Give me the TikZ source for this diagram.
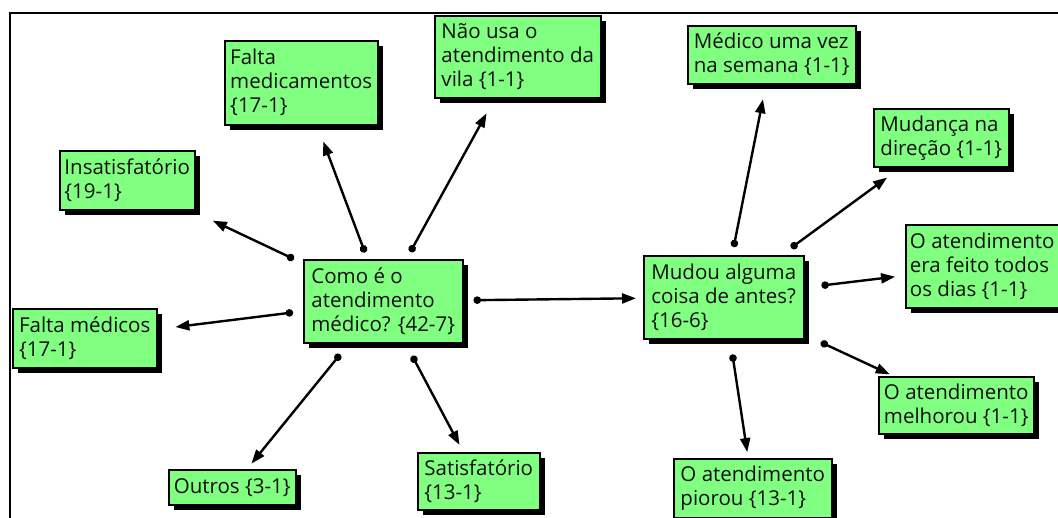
\documentclass[tikz,border=0pt]{standalone}
\usepackage{fontspec}
\setmainfont{Open Sans}
\usepackage{tikz}
\usetikzlibrary{arrows.meta,shadows}

\begin{document}
\begin{tikzpicture}[x=1pt,y=-1pt,line cap=rect,
		box/.style={draw=black, line width=1.5pt, fill=custcol_80_ff_80, text=custcol_10_10_10, align=left, anchor=north west, inner sep=0pt,
			font=\fontsize{20.5pt}{24pt}\selectfont, drop shadow={opacity=1, fill=black, shadow xshift=5pt, shadow yshift=-5pt}},
		link/.style={line width=2.4pt, line cap=butt, {Circle[length=7.5pt]}-{Triangle[length=14pt,width=10pt]}}]
					\definecolor{custcol_80_ff_80}{RGB}{128, 255, 128}
					\definecolor{custcol_10_10_10}{RGB}{16, 16, 16}
					\useasboundingbox (0,0) rectangle (1058,517);
					\fill [white] (0,0) rectangle (1058,517);
					\draw [line width=2.5pt, black] (10,517) -- (10,13) -- (1058,13);
					% left cluster
					\node [box, minimum width=135, minimum height=59] (insat) at (59,150) {Insatisfatório\\\{19-1\}};
					\node [box, minimum width=153, minimum height=84] (faltamed) at (224,40) {Falta\\medicamentos\\\{17-1\}};
					\node [box, minimum width=166, minimum height=82] (naousa) at (434,15) {Não usa o\\atendimento da\\vila \{1-1\}};
					\node [box, minimum width=159, minimum height=83] (como) at (303,259) {Como é o\\atendimento\\médico? \{42-7\}};
					\node [box, minimum width=144, minimum height=59] (faltamedicos) at (12,308) {Falta médicos\\\{17-1\}};
					\node [box, minimum width=127, minimum height=35] (outros) at (168,469) {Outros \{3-1\}};
					\node [box, minimum width=122, minimum height=57] (satisf) at (417,452) {Satisfatório\\\{13-1\}};
					% right cluster
					\node [box, minimum width=160, minimum height=83] (mudou) at (643,255) {Mudou alguma\\coisa de antes?\\\{16-6\}};
					\node [box, minimum width=168, minimum height=58] (medico) at (687,25) {Médico uma vez\\na semana \{1-1\}};
					\node [box, minimum width=135, minimum height=58] (mudanca) at (873,108) {Mudança na\\direção \{1-1\}};
					\node [box, minimum width=153, minimum height=83] (todos) at (905,224) {O atendimento\\era feito todos\\os dias \{1-1\}};
					\node [box, minimum width=155, minimum height=57] (melhorou) at (878,376) {O atendimento\\melhorou \{1-1\}};
					\node [box, minimum width=158, minimum height=59] (piorou) at (673,458) {O atendimento\\piorou \{13-1\}};
					\draw [link, shorten <=10pt, shorten >=24pt] (como) -- (insat);
					\draw [link, shorten <=7pt, shorten >=17pt] (como) -- (faltamed);
					\draw [link, shorten <=8pt, shorten >=17pt] (como) -- (naousa);
					\draw [link, shorten <=10pt, shorten >=18pt] (como) -- (faltamedicos);
					\draw [link, shorten <=14pt, shorten >=7pt] (como) -- (outros);
					\draw [link, shorten <=14pt, shorten >=8pt] (como) -- (satisf);
					\draw [link, shorten <=10pt, shorten >=7pt] (como) -- (mudou);
					\draw [link, shorten <=8pt, shorten >=15pt] (mudou) -- (medico);
					\draw [link, shorten <=12pt, shorten >=17pt] (mudou) -- (mudanca);
					\draw [link, shorten <=17pt, shorten >=10pt] (mudou) -- (todos);
					\draw [link, shorten <=18pt, shorten >=4pt] (mudou) -- (melhorou);
					\draw [link, shorten <=15pt, shorten >=6pt] (mudou) -- (piorou);
				\end{tikzpicture}
\end{document}
